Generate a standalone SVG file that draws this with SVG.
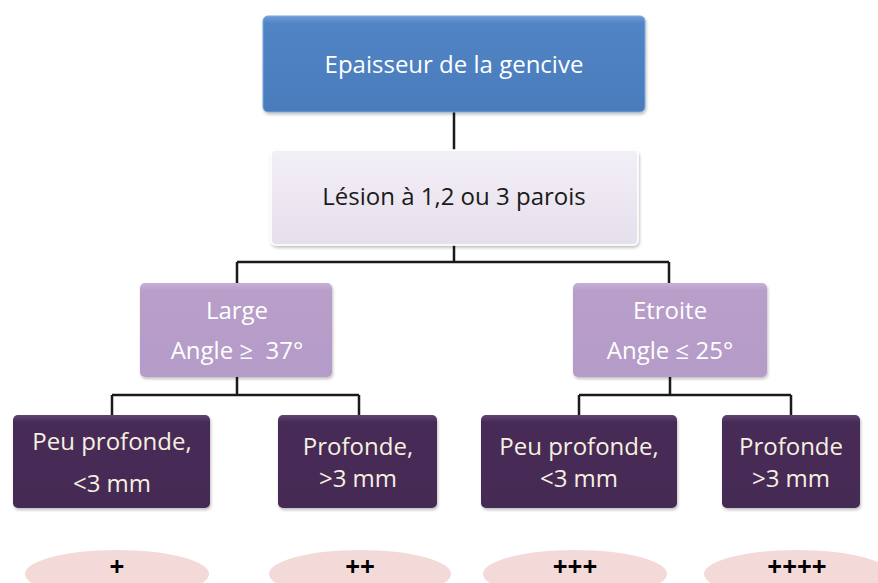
<svg xmlns="http://www.w3.org/2000/svg" width="878" height="583" viewBox="0 0 878 583">
<defs>
<linearGradient id="gBlue" x1="0" y1="0" x2="0" y2="1">
<stop offset="0" stop-color="#6f9bd6"/><stop offset="0.08" stop-color="#5184c4"/><stop offset="1" stop-color="#4a7cbc"/>
</linearGradient>
<linearGradient id="gLav" x1="0" y1="0" x2="0" y2="1">
<stop offset="0" stop-color="#f3eff7"/><stop offset="1" stop-color="#e6dfec"/>
</linearGradient>
<linearGradient id="gMid" x1="0" y1="0" x2="0" y2="1">
<stop offset="0" stop-color="#c7b1d8"/><stop offset="0.08" stop-color="#b89ec9"/><stop offset="1" stop-color="#b59bc7"/>
</linearGradient>
<linearGradient id="gDark" x1="0" y1="0" x2="0" y2="1">
<stop offset="0" stop-color="#5e4470"/><stop offset="0.08" stop-color="#472b55"/><stop offset="1" stop-color="#452a53"/>
</linearGradient>
<filter id="sh" x="-10%" y="-10%" width="120%" height="130%">
<feDropShadow dx="1" dy="2" stdDeviation="1.5" flood-color="#000" flood-opacity="0.25"/>
</filter>
</defs>
<style>
text{font-family:"Open Sans","Liberation Sans",sans-serif;text-anchor:middle;font-size:24px}
.t1{fill:#ffffff}
.t2{fill:#1a1a1a}
.t3{fill:#ffffff}
.t4{fill:#f6f0e0}
.pl{fill:#000;font-size:26px;font-weight:bold}
.con{stroke:#1a1a1a;stroke-width:2.5;fill:none}
.ell{fill:#f4d9d9}
</style>
<g id="connectors">
<path class="con" d="M454 112V150"/>
<path class="con" d="M454 245V262M237 262H669M237 262V283M669 262V283"/>
<path class="con" d="M237 377V395M112 395H359M112 395V415M359 395V415"/>
<path class="con" d="M670 377V395M579 395H791M579 395V415M791 395V415"/>
</g>
<g id="n1"><rect x="263" y="16" width="382" height="96" rx="5" fill="url(#gBlue)" stroke="#7da7dc" stroke-width="1" filter="url(#sh)"/>
<text class="t1" x="454" y="73">Epaisseur de la gencive</text></g>
<g id="n2"><rect x="271" y="150" width="367" height="95" rx="5" fill="url(#gLav)" stroke="#ffffff" stroke-width="1.5" filter="url(#sh)"/>
<text class="t2" x="454" y="205">Lésion à 1,2 ou 3 parois</text></g>
<g id="n3"><rect x="140" y="283" width="192" height="94" rx="5" fill="url(#gMid)" filter="url(#sh)"/>
<text class="t3" x="237" y="319">Large</text><text class="t3" x="237" y="359" xml:space="preserve">Angle ≥  37°</text></g>
<g id="n4"><rect x="573" y="283" width="194" height="94" rx="5" fill="url(#gMid)" filter="url(#sh)"/>
<text class="t3" x="670" y="319">Etroite</text><text class="t3" x="670" y="359">Angle ≤ 25°</text></g>
<g id="n5"><rect x="13" y="415" width="197" height="93" rx="5" fill="url(#gDark)" filter="url(#sh)"/>
<text class="t4" x="112" y="450">Peu profonde,</text><text class="t4" x="112" y="492">&lt;3 mm</text></g>
<g id="n6"><rect x="278" y="415" width="159" height="93" rx="5" fill="url(#gDark)" filter="url(#sh)"/>
<text class="t4" x="358" y="455">Profonde,</text><text class="t4" x="358" y="487">&gt;3 mm</text></g>
<g id="n7"><rect x="481" y="415" width="196" height="93" rx="5" fill="url(#gDark)" filter="url(#sh)"/>
<text class="t4" x="579" y="455">Peu profonde,</text><text class="t4" x="579" y="487">&lt;3 mm</text></g>
<g id="n8"><rect x="722" y="415" width="138" height="93" rx="5" fill="url(#gDark)" filter="url(#sh)"/>
<text class="t4" x="791" y="455">Profonde</text><text class="t4" x="791" y="487">&gt;3 mm</text></g>
<g id="e1"><ellipse class="ell" cx="117" cy="574" rx="92" ry="24"/><text class="pl" x="117" y="576">+</text></g>
<g id="e2"><ellipse class="ell" cx="360" cy="574" rx="91" ry="24"/><text class="pl" x="360" y="576">++</text></g>
<g id="e3"><ellipse class="ell" cx="575" cy="574" rx="92" ry="24"/><text class="pl" x="575" y="576">+++</text></g>
<g id="e4"><ellipse class="ell" cx="797" cy="574" rx="93" ry="24"/><text class="pl" x="797" y="576">++++</text></g>
</svg>
